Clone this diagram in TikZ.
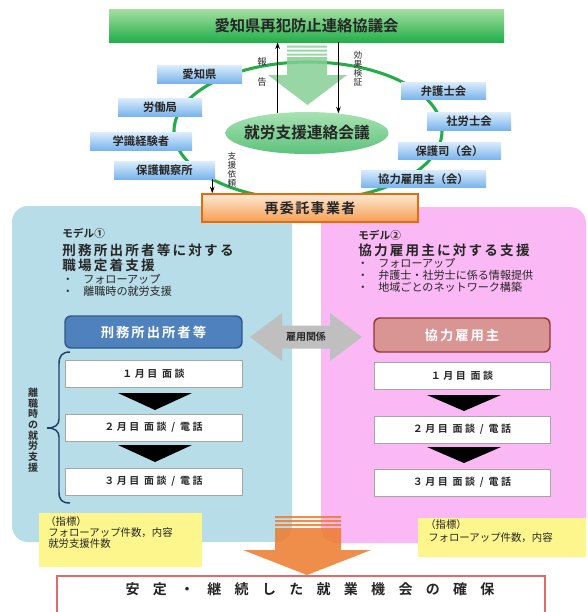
\documentclass[tikz,border=0pt]{standalone}
\usepackage{fontspec}
\setmainfont{Noto Sans CJK JP}[BoldFont={Noto Sans CJK JP Bold}]
\usetikzlibrary{shapes.geometric,arrows.meta}
\definecolor{councilTop}{HTML}{A4E0A0}
\definecolor{councilBot}{HTML}{22AE4B}
\definecolor{ringGreen}{HTML}{25AC4A}
\definecolor{arrowGreen}{HTML}{86CF96}
\definecolor{meetTop}{HTML}{A9E2B3}
\definecolor{meetBot}{HTML}{5DC27C}
\definecolor{memTop}{HTML}{D8EBFB}
\definecolor{memBot}{HTML}{78B4EC}
\definecolor{itakuTop}{HTML}{FDE8D3}
\definecolor{itakuBot}{HTML}{F59E52}
\definecolor{itakuLine}{HTML}{E46C0A}
\definecolor{panelBlue}{HTML}{B7DDE8}
\definecolor{panelPink}{HTML}{FAB9F5}
\definecolor{offFill}{HTML}{4F81BD}
\definecolor{offLine}{HTML}{2F5A8C}
\definecolor{empFill}{HTML}{D99594}
\definecolor{empLine}{HTML}{953735}
\definecolor{braceBlue}{HTML}{1F3F66}
\definecolor{relGray}{HTML}{BFBFBF}
\definecolor{noteYellow}{HTML}{FCF68C}
\definecolor{goalOrange}{HTML}{ED7D31}
\definecolor{goalRed}{HTML}{E46A6A}
\definecolor{txtDark}{HTML}{262626}
\newcommand{\jpsize}[2]{\fontsize{#1}{#2}\selectfont}

\begin{document}
\begin{tikzpicture}[x=0.75pt,y=0.75pt,yscale=-1,xscale=1,
  member/.style={top color=memTop, bottom color=memBot, minimum height=13pt, inner sep=0pt, text=txtDark, font=\jpsize{8.5pt}{10pt}\bfseries},
  stepbox/.style={draw=gray!70, line width=0.6pt, fill=white, minimum height=20.25pt, inner sep=0pt, text=txtDark, font=\jpsize{7.5pt}{9pt}\bfseries\addfontfeature{LetterSpace=25}},
  report/.style={-{Stealth[length=5pt,width=3.5pt]}, line width=0.9pt, black},
  vlabel/.style={align=center, inner sep=0pt, text=txtDark},
  bullet/.style={anchor=west, inner sep=0pt, text=txtDark, font=\jpsize{8.3pt}{10pt}},
  modelhead/.style={anchor=west, inner sep=0pt, text=txtDark, font=\jpsize{8pt}{10pt}\bfseries},
  modeltitle/.style={anchor=west, inner sep=0pt, text=txtDark, font=\jpsize{10.2pt}{12pt}\bfseries\addfontfeature{LetterSpace=16}},
  notetext/.style={anchor=west, inner sep=0pt, text=txtDark, font=\jpsize{7.8pt}{9pt}},
  note/.style={fill=noteYellow, inner sep=0pt}
]
\useasboundingbox (0,0) rectangle (588,612);

%Shape: Rectangle panels
\fill [panelBlue, rounded corners=12pt] (12,206) rectangle (292,542);
\fill [panelPink, rounded corners=12pt] (321,207) rectangle (586,543);

%Shape: Ellipse ring
\draw [ringGreen, line width=2.3pt] (308,131) ellipse [x radius=134, y radius=69];

%Shape: Block arrow (green)
\fill [arrowGreen, opacity=0.85] (287,45.5) rectangle (327,47.5) (287,49.5) rectangle (327,51.5) (287,53.5) rectangle (327,55.5);
\fill [arrowGreen, opacity=0.85] (287,57) -- (327,57) -- (327,75) -- (347,75) -- (307.5,105) -- (268,75) -- (287,75) -- cycle;

% Text Node
\node [top color=councilTop, bottom color=councilBot, minimum width=296.25pt, minimum height=24.75pt, inner sep=0pt, text=txtDark, font=\jpsize{11.5pt}{13pt}\bfseries] (council) at (306.5,25.5) {愛知県再犯防止連絡協議会};
\node [ellipse, top color=meetTop, bottom color=meetBot, minimum width=120pt, minimum height=31.5pt, inner xsep=-4pt, inner ysep=0pt, text=txtDark, font=\jpsize{11.8pt}{13pt}\bfseries] (meeting) at (307,133) {就労支援連絡会議};

% Members
\node [member, minimum width=63.75pt] (pref) at (199.5,74.5) {愛知県};
\node [member, minimum width=63pt] (labor) at (160,107.5) {労働局};
\node [member, minimum width=76.5pt] (expert) at (141,141.5) {学識経験者};
\node [member, minimum width=75.75pt] (hogo) at (164.5,170.5) {保護観察所};
\node [member, minimum width=63.75pt] (lawyer) at (443.5,91) {弁護士会};
\node [member, minimum width=63pt] (sharo) at (469,121.5) {社労士会};
\node [member, minimum width=77.25pt] (hogoshi) at (449.5,151) {保護司（会）};
\node [member, minimum width=93.75pt] (kyoryoku) at (423.5,179) {協力雇用主（会）};

% Arrows
\draw [report] (meeting.146) -- (meeting.146 |- council.south);
\draw [report] (council.south -| meeting.32) -- (meeting.32);
\node [vlabel, font=\jpsize{7pt}{15pt}] (rep) at (262,72) {報\\告};
\node [vlabel, font=\jpsize{6.5pt}{6.7pt}] (verify) at (358,69) {効\\果\\検\\証};
\node [vlabel, font=\jpsize{6.5pt}{6.7pt}] (request) at (232,170) {支\\援\\依\\頼};

% Text Node
\node [top color=itakuTop, bottom color=itakuBot, draw=itakuLine, line width=1.1pt, minimum width=162pt, minimum height=21pt, inner sep=0pt, text=txtDark, font=\jpsize{10.5pt}{12pt}\bfseries\addfontfeature{LetterSpace=10}] (itaku) at (310,208) {再委託事業者};
\draw [report] ([xshift=-2.25pt]hogo.south east) -- ([xshift=-2.25pt]hogo.south east |- itaku.north);

% Model 1
\node [modelhead] (m1) at (62,233) {モデル①};
\node [modeltitle] (m1a) at (62,250) {刑務所出所者等に対する};
\node [modeltitle] (m1b) at (62,265) {職場定着支援};
\node [bullet] (m1c) at (62,279) {・\hspace{7.5pt}フォローアップ};
\node [bullet] (m1d) at (62,291) {・\hspace{7.5pt}離職時の就労支援};

% Model 2
\node [modelhead] (m2) at (358,235) {モデル②};
\node [modeltitle] (m2a) at (358,250) {協力雇用主に対する支援};
\node [bullet] (m2b) at (357,263) {・\hspace{7.5pt}フォローアップ};
\node [bullet] (m2c) at (357,275) {・\hspace{7.5pt}弁護士・社労士に係る情報提供};
\node [bullet] (m2d) at (357,287) {・\hspace{7.5pt}地域ごとのネットワーク構築};

% Boxes
\node [fill=offFill, draw=offLine, line width=1.1pt, rounded corners=4.5pt, minimum width=132.75pt, minimum height=24pt, inner sep=0pt, text=white, font=\jpsize{10pt}{12pt}\bfseries\addfontfeature{LetterSpace=15}] (offender) at (153.5,332) {刑務所出所者等};
\node [fill=empFill, draw=empLine, line width=1.1pt, rounded corners=4.5pt, minimum width=132pt, minimum height=25.5pt, inner sep=0pt, text=white, font=\jpsize{10pt}{12pt}\bfseries\addfontfeature{LetterSpace=15}] (employer) at (462,335) {協力雇用主};

\node [stepbox, minimum width=132.75pt] (l1) at (153.5,373.5) {１月目 面談};
\node [stepbox, minimum width=132.75pt] (l2) at (153.5,427.5) {２月目 面談 / 電話};
\node [stepbox, minimum width=132.75pt] (l3) at (153.5,481.5) {３月目 面談 / 電話};
\node [stepbox, minimum width=132pt] (r1) at (462,375.5) {１月目 面談};
\node [stepbox, minimum width=132pt] (r2) at (462,429.5) {２月目 面談 / 電話};
\node [stepbox, minimum width=132pt] (r3) at (462,482.5) {３月目 面談 / 電話};

%Shape: Triangle
\fill (118,393) -- (192,393) -- (155,410) -- cycle;
\fill (118,445) -- (192,445) -- (155,462) -- cycle;
\fill (427,395) -- (501,395) -- (464,411) -- cycle;
\fill (427,447) -- (501,447) -- (464,463) -- cycle;

%Shape: Brace
\draw [braceBlue, line width=1.1pt] (70,352) .. controls (62,352) and (59,356) .. (59,364) -- (59,419) .. controls (59,425) and (55,428) .. (47,428) .. controls (55,428) and (59,431) .. (59,437) -- (59,492) .. controls (59,500) and (62,503) .. (70,503);
\node [vlabel, font=\jpsize{7.5pt}{8pt}\bfseries] (leave) at (33,430) {離\\職\\時\\の\\就\\労\\支\\援};

%Shape: Double arrow
\fill [relGray] (250,337) -- (282,313) -- (282,325.5) -- (330,325.5) -- (330,313) -- (362,337) -- (330,361) -- (330,348.5) -- (282,348.5) -- (282,361) -- cycle;
\node [inner sep=0pt, text=gray!30!black, font=\jpsize{7.5pt}{9pt}\bfseries] (rel) at (306,337) {雇用関係};

% Notes
\node [note, minimum width=122.25pt, minimum height=40.5pt] (noteL) at (120.5,540) {};
\node [notetext] (nl1) at (45,522) {（指標）};
\node [notetext] (nl2) at (48,533) {フォローアップ件数，内容};
\node [notetext] (nl3) at (48,544) {就労支援件数};
\node [note, minimum width=126pt, minimum height=29.25pt] (noteR) at (502,537.5) {};
\node [notetext] (nr1) at (425,525) {（指標）};
\node [notetext] (nr2) at (428,538) {フォローアップ件数，内容};

%Shape: Block arrow (orange)
\fill [goalOrange, opacity=0.88] (275,516) rectangle (341,518) (275,520) rectangle (341,522) (275,524) rectangle (341,526);
\fill [goalOrange, opacity=0.88] (275,528) -- (341,528) -- (341,550) -- (371,550) -- (307,575) -- (243,550) -- (275,550) -- cycle;

%Shape: Rectangle goal
\draw [goalRed, line width=1.5pt, fill=white] (57,576) rectangle (545,618);
\node [inner sep=0pt, text=txtDark, font=\jpsize{10.5pt}{12pt}\bfseries\addfontfeature{LetterSpace=95}] (goal) at (310,589) {安定・継続した就業機会の確保};

\end{tikzpicture}
\end{document}
